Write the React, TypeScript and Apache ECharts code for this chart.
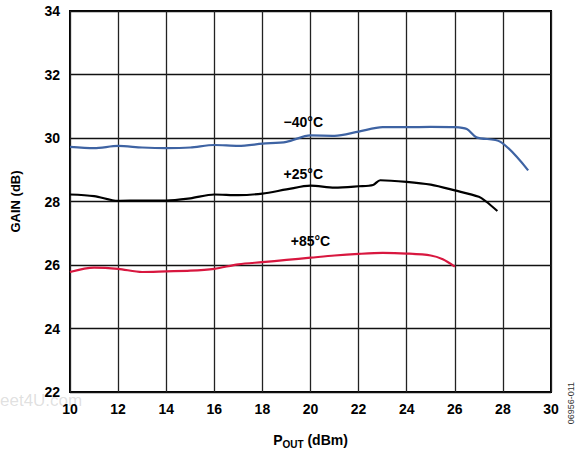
import React, { useEffect, useRef } from "react";
import * as echarts from "echarts";

const xM40 = [10, 11, 12, 13, 14, 15, 16, 17, 18, 19, 20, 21, 22, 23, 24, 25, 26, 26.5, 26.9, 27.9, 29.05];
const yM40 = [29.72, 29.68, 29.75, 29.7, 29.68, 29.7, 29.78, 29.75, 29.82, 29.88, 30.08, 30.07, 30.2, 30.34, 30.34, 30.35, 30.34, 30.28, 30.02, 29.88, 28.98];

const x25 = [10, 11, 12, 13, 14, 15, 16, 17, 18, 19, 20, 21, 22, 22.6, 22.9, 24, 25, 26, 27, 27.3, 27.77];
const y25 = [28.22, 28.17, 28.02, 28.03, 28.03, 28.1, 28.22, 28.2, 28.25, 28.38, 28.5, 28.44, 28.48, 28.52, 28.67, 28.62, 28.53, 28.35, 28.15, 28.0, 27.7];

const x85 = [10, 11, 12, 13, 14, 15, 16, 17, 18, 19, 20, 21, 22, 23, 24, 25, 25.5, 26];
const y85 = [25.78, 25.92, 25.88, 25.78, 25.8, 25.82, 25.88, 26.02, 26.09, 26.16, 26.23, 26.3, 26.35, 26.38, 26.36, 26.3, 26.18, 25.95];

const seriesNames = ["\u221240\u00b0C", "+25\u00b0C", "+85\u00b0C"];
const seriesColors = ["#3e63a3", "#000000", "#d8173f"];
const labelPos = [
  [19.7, 30.5],
  [19.7, 28.87],
  [20.0, 26.75],
];

const zip = (xs: number[], ys: number[]) => xs.map((x, i) => [x, ys[i]]);

export default function App() {
  const ref = useRef<HTMLDivElement>(null);
  useEffect(() => {
    if (!ref.current) return;
    const chart = echarts.init(ref.current, null, { renderer: "svg" });
    const font = "Liberation Sans, Arial, sans-serif";
    const data = [zip(xM40, yM40), zip(x25, y25), zip(x85, y85)];
    chart.setOption({
      animation: false,
      backgroundColor: "#ffffff",
      grid: { left: 70, right: 32, top: 11, bottom: 59, show: true, borderColor: "#000", borderWidth: 2, backgroundColor: "transparent" },
      xAxis: {
        type: "value",
        min: 10,
        max: 30,
        interval: 2,
        axisLine: { show: false },
        axisTick: { show: false },
        splitLine: { show: true, lineStyle: { color: "#222", width: 1.3 } },
        axisLabel: { color: "#000", fontFamily: font, fontWeight: "bold", fontSize: 14, margin: 10, formatter: (v: number) => String(v) },
        name: "{p|P}{s|OUT}{p| (dBm)}",
        nameLocation: "middle",
        nameGap: 39,
        nameTextStyle: {
          rich: {
            p: { fontFamily: font, fontWeight: "bold", fontSize: 14, color: "#000" },
            s: { fontFamily: font, fontWeight: "bold", fontSize: 10, color: "#000", verticalAlign: "top", padding: [8, 0, 0, 0] },
          },
        },
      },
      yAxis: {
        type: "value",
        min: 22,
        max: 34,
        interval: 2,
        axisLine: { show: false },
        axisTick: { show: false },
        splitLine: { show: true, lineStyle: { color: "#111", width: 1.3 } },
        axisLabel: { color: "#000", fontFamily: font, fontWeight: "bold", fontSize: 14, margin: 10 },
        name: "GAIN (dB)",
        nameLocation: "middle",
        nameGap: 48,
        nameTextStyle: { color: "#000", fontFamily: font, fontWeight: "bold", fontSize: 13 },
      },
      series: data.map((d, i) => ({
        type: "line",
        name: seriesNames[i],
        data: d,
        smooth: 0.3,
        symbol: "none",
        lineStyle: { color: seriesColors[i], width: 2.2 },
        markPoint: {
          symbol: "circle",
          symbolSize: 0,
          data: [{ coord: labelPos[i], value: seriesNames[i] }],
          label: { show: true, formatter: seriesNames[i], color: "#000", fontFamily: font, fontWeight: "bold", fontSize: 14, position: "inside" },
        },
      })),
      graphic: [
        {
          type: "text",
          left: 566,
          top: 382,
          rotation: Math.PI / 2,
          style: { text: "06956-011", fill: "#333", font: "9px Liberation Sans, Arial, sans-serif" },
        },
        {
          type: "text",
          left: 0,
          top: 392,
          z: -1,
          style: { text: "eet4U.com", fill: "rgba(150,150,150,0.3)", font: "17px Liberation Sans, Arial, sans-serif" },
        },
      ],
    });
    return () => chart.dispose();
  }, []);
  return <div ref={ref} style={{ position: "absolute", left: 0, top: 0, width: 583, height: 454 }} />;
}
